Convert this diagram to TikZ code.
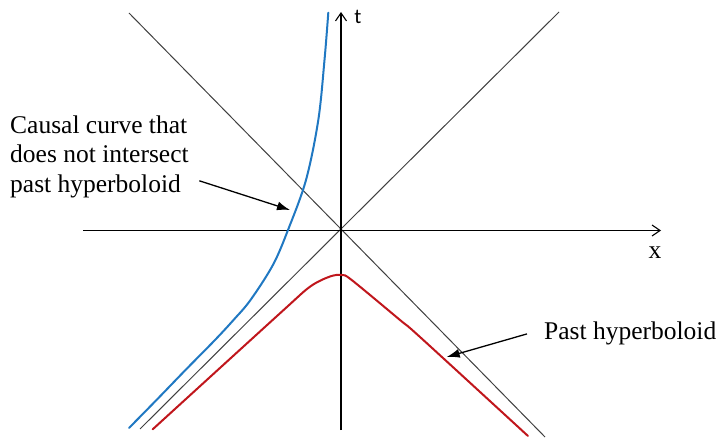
\documentclass[tikz,border=0pt]{standalone}
\usepackage{fontspec}
\setmainfont{Liberation Serif}
\newfontfamily\axisfont{Carlito}
\usetikzlibrary{arrows.meta}
\definecolor{causalblue}{RGB}{32,120,194}
\definecolor{hyperred}{RGB}{192,22,28}

\begin{document}
\begin{tikzpicture}[x=1pt, y=-1pt,
			axis_style/.style={line width=1.1pt, black, -{Straight Barb[length=8pt,width=11pt,line width=1.1pt]}},
			cone_style/.style={line width=1pt, black!75},
			causal_style/.style={line width=2pt, causalblue, line cap=round},
			hyper_style/.style={line width=2pt, hyperred, line cap=round},
			label_style/.style={font=\fontsize{25.5}{29.5}\selectfont, inner sep=0pt},
			pointer_style/.style={line width=1.3pt, black, -{Latex[length=13pt,width=9pt]}}]
			
			\useasboundingbox (0,0) rectangle (718,438);
			
			\foreach \n/\x/\y in {xstart/83/230.5,xend/661/230.5,tstart/341/430,tend/341/12}{
				\coordinate (\n) at (\x,\y);}
			\foreach \n/\x/\y in {nw/129/13,se/545/437,sw/140/429,ne/559/12}{
				\coordinate (\n) at (\x,\y);}
			
			\foreach \a/\b in {nw/se,sw/ne}{
				\draw[cone_style] (\a) -- (\b);}
			
			\draw[axis_style] (xstart) -- (xend);
			\draw[axis_style] (tstart) -- (tend);
			
			\node[label_style] (xlabel) at (655,253) {x};
			\node[font=\axisfont\fontsize{21}{21}\selectfont, inner sep=0pt] (tlabel) at (358,17) {t};
			
			\draw[causal_style] plot[smooth, tension=0.55] coordinates {(129,428) (156.5,400) (185.5,370) (215,340) (233.5,320) (250.5,300) (272.9,265) (288,230) (306,180) (318.3,120) (324.5,60) (328.3,12.7)};
			\draw[hyper_style] plot[smooth, tension=0.5] coordinates {(152.7,429.3) (280,313.3) (310,286.7) (330,276.5) (342,275) (351.7,280) (400,320) (420,337) (528,436)};
			
			\node[label_style, anchor=north west, align=left] (causal) at (10,115.5) {Causal curve that\\does not intersect\\past hyperboloid};
			\node[label_style, anchor=base west] (past) at (544,340) {Past hyperboloid};
			
			\coordinate (causaltip) at (290,210);
			\coordinate (pasttip) at (446.7,357);
			\draw[pointer_style] ([shift={(10.5,24)}]causal.east) -- (causaltip);
			\draw[pointer_style] ([xshift=-17pt]past.west) -- (pasttip);
		\end{tikzpicture}
\end{document}
